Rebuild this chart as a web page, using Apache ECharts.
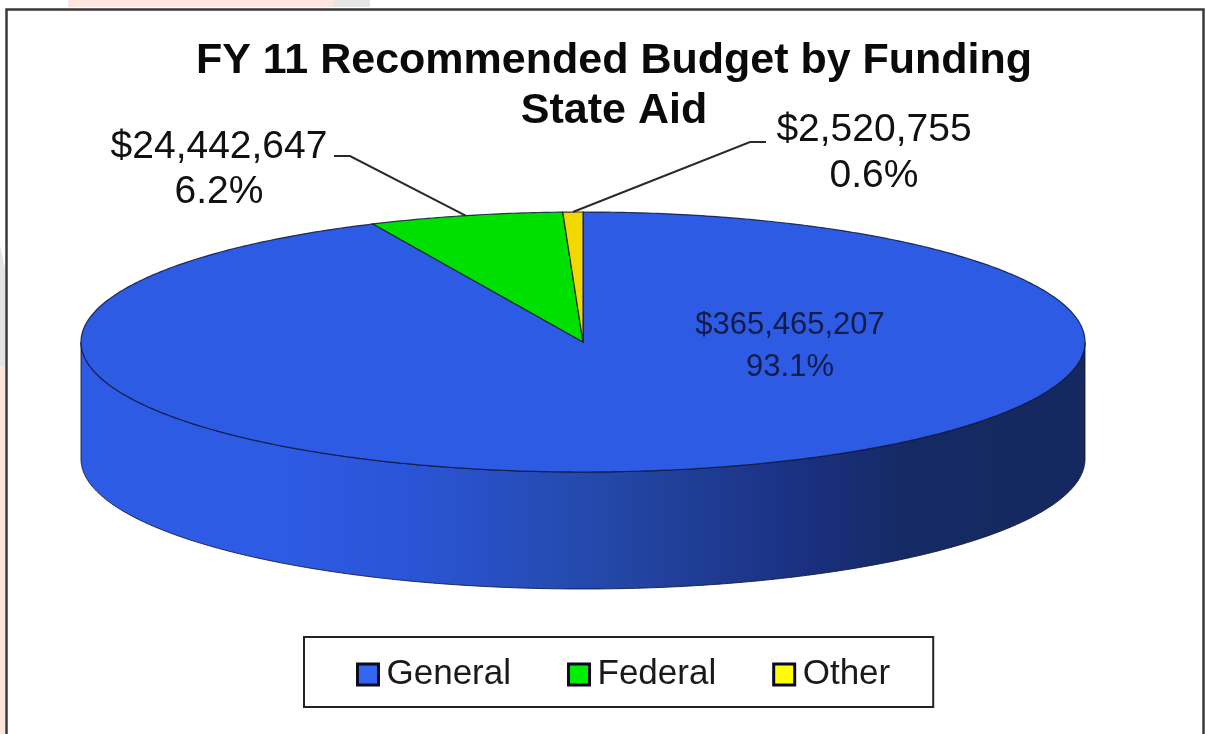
<!DOCTYPE html>
<html>
<head>
<meta charset="utf-8">
<style>html,body{margin:0;padding:0;background:#fff}#chart{width:1205px;height:734px}</style>
<script src="https://cdn.jsdelivr.net/npm/echarts@6/dist/echarts.min.js"></script>
</head>
<body>
<div id="chart"></div>
<script>
// FY 11 recommended budget, split by funding source
const categories = ['General', 'Federal', 'Other'];
const amounts = [365465207, 24442647, 2520755];
const chartTitle = 'FY 11 Recommended Budget by Funding\nState Aid';

// Drawing styles and layout of the flattened disc
const topColors = ['#2d5be3', '#00e000', '#f2d800'];
const swatchColors = ['#3366ee', '#00ee00', '#ffff00'];
const disc = { cx: 583, cy: 342, rx: 502, ry: 130, depth: 117 };
const labelSpots = [
  { x: 790, y: 346, lh: 42, size: 31, fill: '#121c48' },
  { x: 219, y: 170, lh: 45, size: 39, fill: '#111', elbow: [350, 156], end: [334, 156] },
  { x: 874, y: 153, lh: 46, size: 39, fill: '#111', elbow: [750, 142], end: [766, 142] }
];
const FONT = '"Liberation Sans", Arial, sans-serif';
const EDGE = 'rgba(14,22,60,0.85)';

const total = amounts.reduce((a, b) => a + b, 0);
const startFraction = i => amounts.slice(0, i).reduce((a, b) => a + b, 0) / total;

// Angles run clockwise from twelve o'clock, in radians
const onRim = (a, drop = 0) => [
  disc.cx + disc.rx * Math.sin(a),
  disc.cy - disc.ry * Math.cos(a) + drop
];
const arc = (from, to, drop = 0) => {
  const steps = Math.max(2, Math.ceil(Math.abs(to - from) / 0.01));
  const pts = [];
  for (let k = 0; k <= steps; k++) pts.push(onRim(from + (to - from) * k / steps, drop));
  return pts;
};

const money = v => '$' + v.toLocaleString('en-US');

function sliceRenderer(i) {
  return function () {
    const a0 = startFraction(i) * 2 * Math.PI;
    const a1 = a0 + amounts[i] / total * 2 * Math.PI;
    const children = [];

    // Front wall: the part of the slice facing the viewer
    const w0 = Math.max(a0, Math.PI / 2);
    const w1 = Math.min(a1, 3 * Math.PI / 2);
    if (w1 > w0) {
      const upper = arc(w0, w1);
      const lower = arc(w1, w0, disc.depth);
      children.push({
        type: 'polygon',
        shape: { points: upper.concat(lower) },
        style: {
          fill: {
            type: 'linear', x: 1, y: 0, x2: 0, y2: 0,
            colorStops: [
              { offset: 0, color: '#15285f' },
              { offset: 0.18, color: '#152a64' },
              { offset: 0.28, color: '#1a3080' },
              { offset: 0.48, color: '#2448a8' },
              { offset: 0.68, color: '#2b55d8' },
              { offset: 0.8, color: '#2e5be4' },
              { offset: 1, color: '#2e5be4' }
            ]
          },
          stroke: EDGE, lineWidth: 1
        }
      });
    }

    // Top face
    children.push({
      type: 'polygon',
      shape: { points: [[disc.cx, disc.cy]].concat(arc(a0, a1)) },
      style: { fill: topColors[i], stroke: EDGE, lineWidth: 1.2 }
    });

    // Leader line from the rim to the label
    const spot = labelSpots[i];
    if (spot.elbow) {
      children.push({
        type: 'polyline',
        shape: { points: [onRim((a0 + a1) / 2), spot.elbow, spot.end] },
        style: { fill: null, stroke: '#2a2a2a', lineWidth: 2 }
      });
    }

    // Amount and share of the total
    children.push({
      type: 'text',
      z2: 10,
      style: {
        text: money(amounts[i]) + '\n' + (amounts[i] / total * 100).toFixed(1) + '%',
        x: spot.x, y: spot.y,
        align: 'center', verticalAlign: 'middle',
        lineHeight: spot.lh,
        font: spot.size + 'px ' + FONT,
        fill: spot.fill
      }
    });
    return { type: 'group', children };
  };
}

const chart = echarts.init(document.getElementById('chart'));
chart.setOption({
  animation: false,
  backgroundColor: '#fff',
  title: {
    text: chartTitle,
    left: 614, top: 36, textAlign: 'center', padding: 0,
    textStyle: { fontFamily: FONT, fontSize: 43, fontWeight: 'bold', color: '#0a0a0a', lineHeight: 50 }
  },
  legend: {
    left: 304, top: 637,
    padding: [20, 43, 15, 52],
    itemGap: 56, itemWidth: 21, itemHeight: 21,
    borderColor: '#222', borderWidth: 2, backgroundColor: '#fff',
    selectedMode: false,
    textStyle: { fontFamily: FONT, fontSize: 35, color: '#1a1a1a', padding: [0, 0, 0, 3] },
    data: categories.map((name, i) => ({
      name, icon: 'rect',
      itemStyle: { color: swatchColors[i], borderColor: '#0a0a20', borderWidth: 3 }
    }))
  },
  graphic: [
    { type: 'rect', z: -5, shape: { x: 68, y: 0, width: 265, height: 7 }, style: { fill: '#fde6df' } },
    { type: 'rect', z: -5, shape: { x: 333, y: 0, width: 37, height: 7 }, style: { fill: '#e6e6e6' } },
    { type: 'polygon', z: -5, shape: { points: [[0, 245], [5, 268], [5, 366], [0, 366]] }, style: { fill: '#e4e4e4' } },
    { type: 'rect', z: -5, shape: { x: 0, y: 366, width: 5, height: 368 }, style: { fill: '#fde4de' } },
    { type: 'rect', z: -4, shape: { x: 6.5, y: 9.5, width: 1197, height: 800 }, style: { fill: '#fff', stroke: '#3a3a3a', lineWidth: 2.5 } }
  ],
  series: categories.map((name, i) => ({
    type: 'custom',
    name,
    coordinateSystem: 'none',
    silent: true,
    itemStyle: { color: swatchColors[i] },
    data: [amounts[i]],
    renderItem: sliceRenderer(i)
  }))
});
</script>
</body>
</html>
